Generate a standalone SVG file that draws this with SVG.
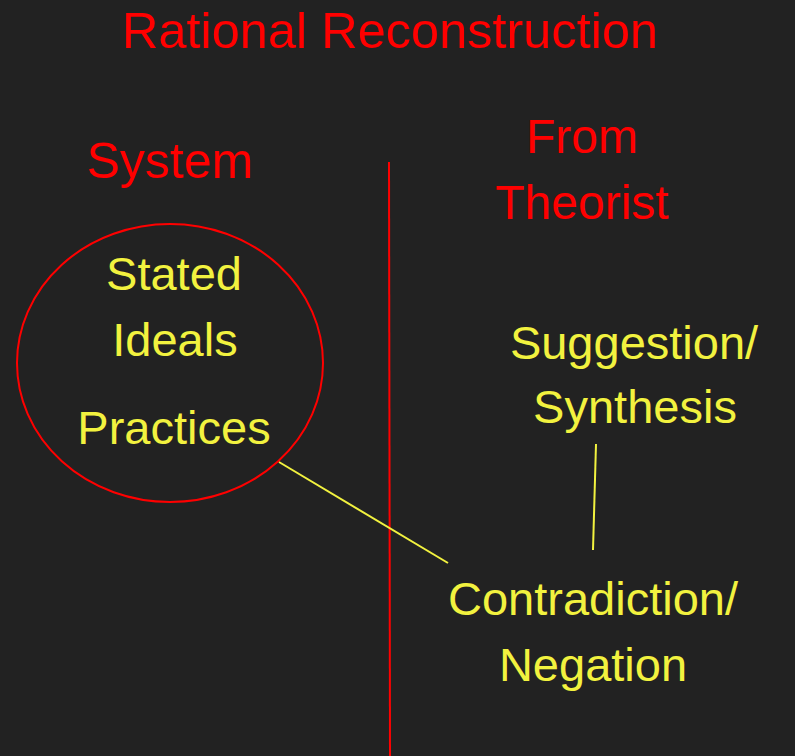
<svg xmlns="http://www.w3.org/2000/svg" width="795" height="756" viewBox="0 0 795 756">
<style>
.r{fill:#ff0000;font-family:"Liberation Sans",Arial,sans-serif;font-size:50px;text-anchor:middle}
.y{fill:#f2f23f;font-family:"Liberation Sans",Arial,sans-serif;font-size:47px;text-anchor:middle}
.c{stroke:#f2f23f;stroke-width:2;fill:none}
</style>
<rect width="795" height="756" fill="#222222"/>
<g id="title"><text class="r" x="390" y="48" style="font-size:50.5px">Rational Reconstruction</text></g>
<g id="divider"><line x1="389" y1="162" x2="390" y2="756" stroke="#ff0000" stroke-width="2"/></g>
<g id="system-label"><text class="r" x="170" y="178">System</text></g>
<g id="theorist-label"><text class="r" x="582" y="153" style="font-size:48px">From</text><text class="r" x="582" y="219" style="font-size:48px">Theorist</text></g>
<g id="system">
<ellipse cx="170" cy="363" rx="153" ry="139" fill="none" stroke="#ff0000" stroke-width="2"/>
<text class="y" x="174" y="290">Stated</text>
<text class="y" x="175" y="356">Ideals</text>
<text class="y" x="174" y="444">Practices</text>
</g>
<g id="suggestion"><text class="y" x="634" y="359">Suggestion/</text><text class="y" x="635" y="423">Synthesis</text></g>
<g id="contradiction"><text class="y" x="593" y="615">Contradiction/</text><text class="y" x="593" y="681">Negation</text></g>
<g id="connectors">
<line class="c" x1="279" y1="462" x2="448" y2="563"/>
<line class="c" x1="596" y1="444" x2="593" y2="550"/>
</g>
</svg>
